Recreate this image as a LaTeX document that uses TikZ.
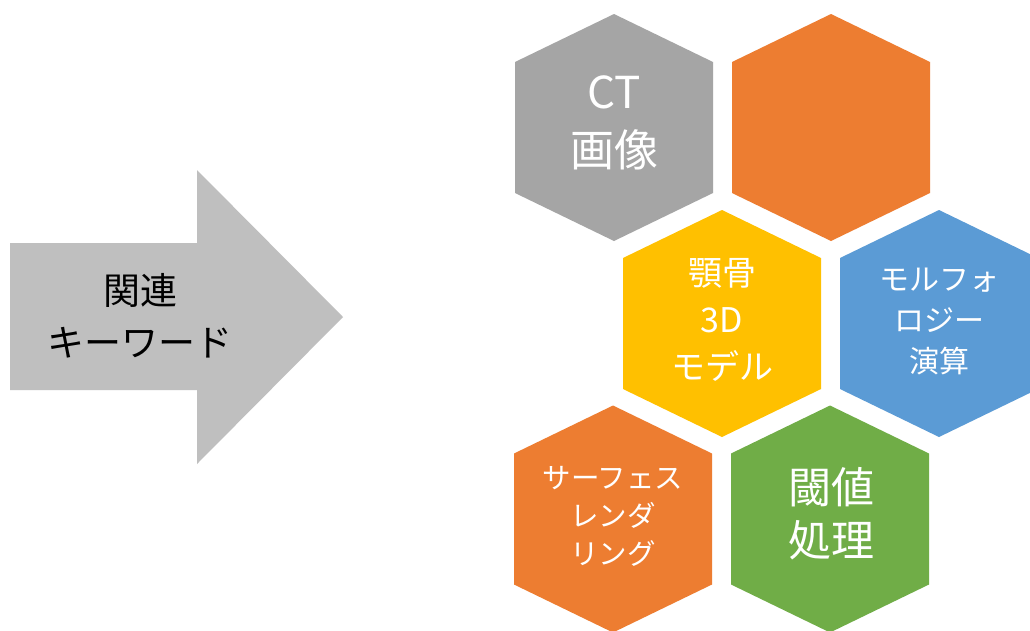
\documentclass[tikz,border=0pt]{standalone}
\usepackage{fontspec}
\setmainfont{Noto Sans CJK JP}
\definecolor{hexgray}{HTML}{A5A5A5}
\definecolor{hexorange}{HTML}{ED7D31}
\definecolor{hexyellow}{HTML}{FFC000}
\definecolor{hexblue}{HTML}{5B9BD5}
\definecolor{hexgreen}{HTML}{70AD47}
\definecolor{arrowgray}{HTML}{BFBFBF}
\tikzset{
  hexa/.pic={\path[pic actions] (0,-113.5) -- (99,-65.5) -- (99,65.5) -- (0,113.5) -- (-99,65.5) -- (-99,-65.5) -- cycle;},
  lbl/.style={text=white, align=center, inner sep=0pt},
  fsz/.style 2 args={font=\fontsize{#1}{#2}\selectfont},
}
\begin{document}
\begin{tikzpicture}[x=1pt,y=-1pt]
\clip (0,0) rectangle (1030,630);
\fill[white] (0,0) rectangle (1030,630);
% arrow
\fill[arrowgray] (10,243) -- (197,243) -- (197,170) -- (343,317) -- (197,464) -- (197,390) -- (10,390) -- cycle;
\node[align=center, inner sep=0pt, text=black, fsz={37}{52}] (kw) at (140,316) {関連\\キーワード};
% hexagons
\pic[fill=hexgray] at (614,127.5) {hexa};
\pic[fill=hexorange] at (831,127.5) {hexa};
\pic[fill=hexyellow] at (722,323.5) {hexa};
\pic[fill=hexblue] at (939,323.5) {hexa};
\pic[fill=hexorange] at (613,519) {hexa};
\pic[fill=hexgreen] at (830,519) {hexa};
% labels
\node[lbl, fsz={44}{58}] (ct) at (614,123) {CT\\画像};
\node[lbl, fsz={34}{47}] (jaw) at (722,320) {顎骨\\3D\\モデル};
\node[lbl, fsz={30}{41}] (morph) at (939,321) {モルフォ\\ロジー\\演算};
\node[lbl, fsz={28.5}{38}] (surf) at (613,516) {サーフェス\\レンダ\\リング};
\node[lbl, fsz={43}{53}] (thr) at (831,514) {閾値\\処理};
\end{tikzpicture}
\end{document}
